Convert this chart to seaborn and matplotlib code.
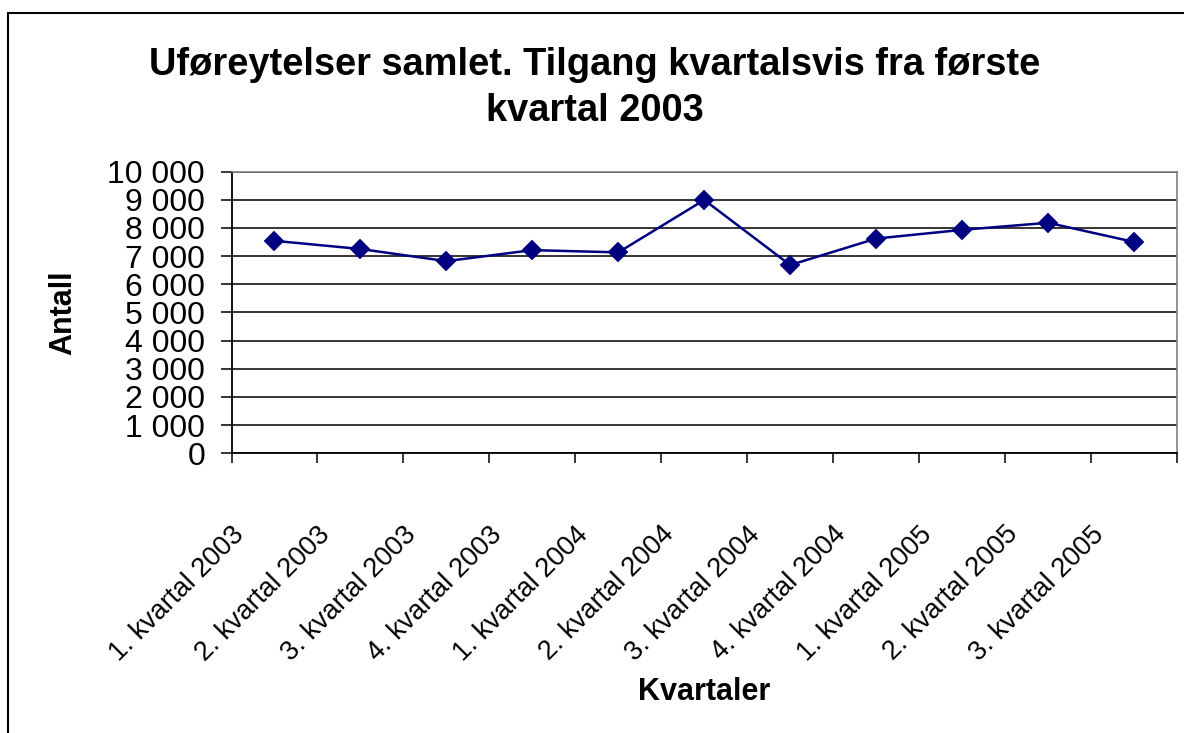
import matplotlib
matplotlib.use("Agg")
import matplotlib.pyplot as plt
from matplotlib.patches import Rectangle
from matplotlib.transforms import ScaledTranslation
from matplotlib.ticker import FixedLocator, FuncFormatter
import seaborn as sns
import pandas as pd

# ---- data ----
quarters = [
    "1. kvartal 2003", "2. kvartal 2003", "3. kvartal 2003", "4. kvartal 2003",
    "1. kvartal 2004", "2. kvartal 2004", "3. kvartal 2004", "4. kvartal 2004",
    "1. kvartal 2005", "2. kvartal 2005", "3. kvartal 2005",
]
values = [7540, 7250, 6820, 7210, 7130, 8990, 6680, 7620, 7930, 8180, 7500]
y_ticks = [0, 1000, 2000, 3000, 4000, 5000, 6000, 7000, 8000, 9000, 10000]
title_text = "Uføreytelser samlet. Tilgang kvartalsvis fra første\nkvartal 2003"
x_label = "Kvartaler"
y_label = "Antall"

# ---- style ----
sns.set_style("white")
plt.rcParams["font.family"] = ["Liberation Sans", "DejaVu Sans"]
plt.rcParams["text.color"] = "black"
plt.rcParams["axes.labelcolor"] = "black"
plt.rcParams["xtick.color"] = "black"
plt.rcParams["ytick.color"] = "black"

W, H = 1184, 733
fig = plt.figure(figsize=(W / 100, H / 100), dpi=100)
fig.patch.set_facecolor("white")

left_px, right_px, top_px, bottom_px = 231.5, 1177, 171.5, 453.3
ax = fig.add_axes([left_px / W, 1 - bottom_px / H,
                   (right_px - left_px) / W, (bottom_px - top_px) / H])

df = pd.DataFrame({"kvartal": quarters, "antall": values})
sns.pointplot(data=df, x="kvartal", y="antall", color="#000080",
              markers="D", linestyles="-", errorbar=None, ax=ax,
              markersize=9, linewidth=1.8)

n = len(quarters)
ax.set_xlim(-0.5, n - 0.5)
ax.set_ylim(0, 10000)
ax.set_yticks(y_ticks)
ax.yaxis.set_major_formatter(FuncFormatter(lambda v, p: f"{int(v):,}".replace(",", " ")))

ax.grid(axis="y", color="black", linewidth=1.1)
ax.grid(axis="x", visible=False)
ax.set_axisbelow(True)

# x ticks: labels at category centers, tick marks at boundaries
ax.set_xticks(range(n))
ax.set_xticklabels(quarters)
ax.xaxis.set_minor_locator(FixedLocator([i - 0.5 for i in range(n + 1)]))
ax.tick_params(axis="x", which="major", length=0, pad=49, labelsize=19.5,
               bottom=True, labelcolor="black")
ax.tick_params(axis="x", which="minor", length=7.2, width=1.1, color="black",
               direction="out", bottom=True)
ax.tick_params(axis="y", which="major", length=8, width=1.1, color="black",
               direction="out", left=True, pad=11, labelsize=23, labelcolor="black")

offset = ScaledTranslation(-0.43, 0, fig.dpi_scale_trans)
for lab in ax.get_xticklabels():
    lab.set_rotation(45)
    lab.set_ha("right")
    lab.set_va("top")
    lab.set_rotation_mode("anchor")
    lab.set_transform(lab.get_transform() + offset)

for s in ["top", "right"]:
    ax.spines[s].set_color("#808080")
    ax.spines[s].set_linewidth(1.2)
for s in ["left", "bottom"]:
    ax.spines[s].set_color("black")
    ax.spines[s].set_linewidth(1.3)

ax.set_xlabel(x_label, fontsize=22, fontweight="bold", va="top", color="black")
ax.xaxis.set_label_coords(0.5, -0.794)
ax.set_ylabel(y_label, fontsize=22, fontweight="bold", color="black")
ax.yaxis.set_label_coords(-0.1623, 0.5)

fig.text(595 / W, 1 - 47 / H, title_text, ha="center", va="top",
         fontsize=27.4, fontweight="bold", linespacing=1.36, color="black")

# outer chart-area border (extends beyond the image at right and bottom)
fig.add_artist(Rectangle((8 / W, -0.1), 1.2, (1 - 13 / H) + 0.1,
                         transform=fig.transFigure, fill=False,
                         edgecolor="black", linewidth=1.5))

fig.savefig("out.png", dpi=100)
